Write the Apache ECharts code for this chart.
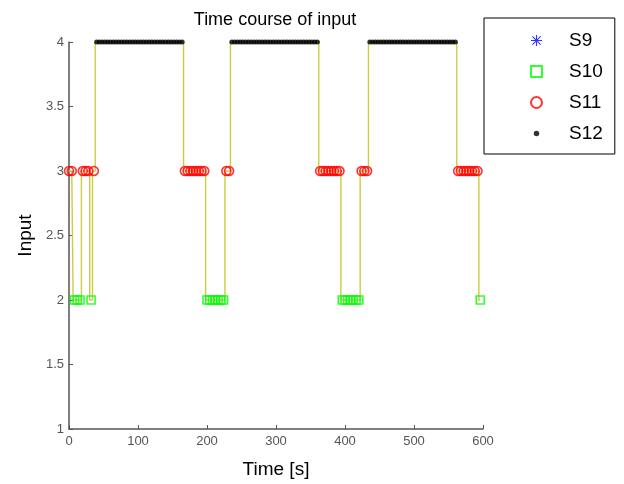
<!DOCTYPE html>
<html>
<head>
<meta charset="utf-8">
<script src="https://cdn.jsdelivr.net/npm/echarts@6/dist/echarts.min.js"></script>
<style>
  html, body { margin: 0; padding: 0; background: #fff; }
  #chart { width: 624px; height: 484px; }
</style>
</head>
<body>
<div id="chart"></div>
<script>
// sample times (s) for each input level
var s9Times = [];
var s10Times = [8, 12, 16, 32,
  200, 204, 208, 212, 216, 220, 224,
  396, 400, 404, 408, 412, 416, 420,
  596];
var s11Times = [0, 4, 20, 24, 28, 36,
  168, 172, 176, 180, 184, 188, 192, 196,
  228, 232,
  364, 368, 372, 376, 380, 384, 388, 392,
  424, 428, 432,
  564, 568, 572, 576, 580, 584, 588, 592];
var s12Times = [40, 44, 48, 52, 56, 60, 64, 68, 72, 76, 80, 84, 88, 92, 96, 100,
  104, 108, 112, 116, 120, 124, 128, 132, 136, 140, 144, 148, 152, 156, 160, 164,
  236, 240, 244, 248, 252, 256, 260, 264, 268, 272, 276, 280, 284, 288, 292, 296,
  300, 304, 308, 312, 316, 320, 324, 328, 332, 336, 340, 344, 348, 352, 356, 360,
  436, 440, 444, 448, 452, 456, 460, 464, 468, 472, 476, 480, 484, 488, 492, 496,
  500, 504, 508, 512, 516, 520, 524, 528, 532, 536, 540, 544, 548, 552, 556, 560];

var s9Level = 1, s10Level = 2, s11Level = 3, s12Level = 4;
var xTicks = { min: 0, max: 600, step: 100 };
var yTicks = { min: 1, max: 4, step: 0.5 };

function toPoints(times, level) {
  return times.map(function (t) { return [t, level]; });
}

var s9Data = toPoints(s9Times, s9Level);
var s10Data = toPoints(s10Times, s10Level);
var s11Data = toPoints(s11Times, s11Level);
var s12Data = toPoints(s12Times, s12Level);

// the input trace runs through every sample in time order
var inputData = s10Data.concat(s11Data, s12Data).sort(function (a, b) { return a[0] - b[0]; });

var starPath = 'path://M9 0 L11 0 L11 7.6 L16.6 2 L18 3.4 L12.4 9 L20 9 L20 11 L12.4 11 L18 16.6 L16.6 18 L11 12.4 L11 20 L9 20 L9 12.4 L3.4 18 L2 16.6 L7.6 11 L0 11 L0 9 L7.6 9 L2 3.4 L3.4 2 L9 7.6 Z';
// small dot inside a 20x20 box so the legend keeps it small
var dotPath = 'path://M0 0 M20 20 M5 10 A5 5 0 1 1 15 10 A5 5 0 1 1 5 10 Z';

var chartDom = document.getElementById('chart');
var myChart = echarts.init(chartDom);
var option;

option = {
  backgroundColor: '#fff',
  animation: false,
  textStyle: { fontFamily: 'Liberation Sans' },
  title: {
    text: 'Time course of input',
    left: 270,
    top: 6,
    textAlign: 'center',
    textStyle: { fontSize: 18, fontWeight: 'normal', color: '#000', fontFamily: 'Liberation Sans' }
  },
  grid: { left: 69, right: 141, top: 42, bottom: 54 },
  legend: {
    orient: 'vertical',
    left: 484,
    top: 18,
    padding: [13, 12, 11, 46],
    itemGap: 12,
    itemWidth: 11,
    itemHeight: 11,
    backgroundColor: '#fff',
    borderColor: '#000',
    borderWidth: 1,
    textStyle: { fontSize: 19, color: '#000', padding: [0, 0, 0, 22] },
    data: [
      { name: 'S9', icon: starPath },
      { name: 'S10', icon: 'rect' },
      { name: 'S11', icon: 'circle' },
      { name: 'S12', icon: dotPath }
    ]
  },
  xAxis: {
    type: 'value',
    min: xTicks.min,
    max: xTicks.max,
    interval: xTicks.step,
    name: 'Time [s]',
    nameLocation: 'middle',
    nameGap: 31,
    nameTextStyle: { fontSize: 19, color: '#000' },
    axisLine: { lineStyle: { color: '#555', width: 1.5 } },
    axisTick: { inside: true, length: 4, lineStyle: { color: '#555' } },
    axisLabel: { color: '#555', fontSize: 13, margin: 6 },
    splitLine: { show: false }
  },
  yAxis: {
    type: 'value',
    min: yTicks.min,
    max: yTicks.max,
    interval: yTicks.step,
    name: 'Input',
    nameLocation: 'middle',
    nameGap: 32,
    nameTextStyle: { fontSize: 19, color: '#000' },
    axisLine: { show: true, lineStyle: { color: '#555', width: 1.5 } },
    axisTick: { show: true, inside: true, length: 4, lineStyle: { color: '#555' } },
    axisLabel: { color: '#555', fontSize: 13, margin: 5 },
    splitLine: { show: false }
  },
  series: [
    {
      name: 'Input',
      type: 'line',
      step: 'middle',
      showSymbol: false,
      data: inputData,
      lineStyle: { color: '#cccc44', width: 1.4 },
      itemStyle: { color: '#cccc44' },
      z: 1
    },
    {
      name: 'S9',
      type: 'scatter',
      symbol: starPath,
      symbolSize: 9,
      data: s9Data,
      itemStyle: { color: '#0000ff' },
      z: 2
    },
    {
      name: 'S10',
      type: 'scatter',
      symbol: 'rect',
      symbolSize: 8,
      data: s10Data,
      itemStyle: { color: 'rgba(0,0,0,0)', borderColor: '#00ff00', borderWidth: 1.6 },
      z: 3
    },
    {
      name: 'S11',
      type: 'scatter',
      symbol: 'circle',
      symbolSize: 9,
      data: s11Data,
      itemStyle: { color: 'rgba(0,0,0,0)', borderColor: '#ff0000', borderWidth: 1.6 },
      z: 4
    },
    {
      name: 'S12',
      type: 'scatter',
      symbol: 'circle',
      symbolSize: 5,
      data: s12Data,
      itemStyle: { color: '#000' },
      z: 5
    }
  ]
};

option && myChart.setOption(option);
</script>
</body>
</html>
